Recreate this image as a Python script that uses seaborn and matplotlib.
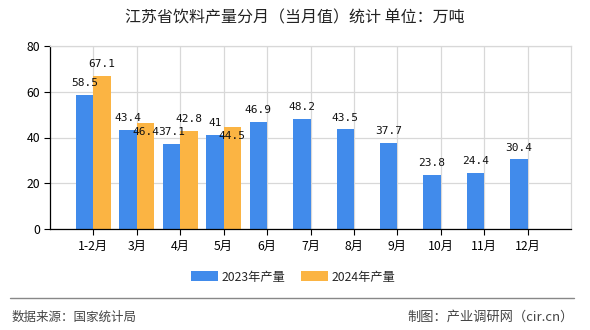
import matplotlib
matplotlib.use("Agg")
import matplotlib.pyplot as plt
import seaborn as sns
import pandas as pd
from matplotlib.patches import Patch

months = ["1-2月", "3月", "4月", "5月", "6月", "7月", "8月", "9月", "10月", "11月", "12月"]
values_2023 = [58.5, 43.4, 37.1, 41, 46.9, 48.2, 43.5, 37.7, 23.8, 24.4, 30.4]
months_2024 = ["1-2月", "3月", "4月", "5月"]
values_2024 = [67.1, 46.4, 42.8, 44.5]
series = ["2023年产量", "2024年产量"]
colors = ["#418BEB", "#FBB443"]
title = "江苏省饮料产量分月（当月值）统计 单位：万吨"
source_left = "数据来源：国家统计局"
source_right = "制图：产业调研网（cir.cn）"
# labels the reference pushes down into the bar (overlap avoidance)
shifted_2024 = ["3月", "5月"]

df = pd.concat([
    pd.DataFrame({"月份": months, "系列": series[0], "值": values_2023}),
    pd.DataFrame({"月份": months_2024, "系列": series[1], "值": values_2024}),
], ignore_index=True)

sns.set_theme(style="white")
plt.rcParams["font.family"] = ["Noto Sans CJK SC", "DejaVu Sans"]

fig = plt.figure(figsize=(5.9, 3.3), dpi=100)
ax = fig.add_axes([50 / 590, 1 - 229 / 330, (571 - 50) / 590, (229 - 46) / 330])

sns.barplot(data=df, x="月份", y="值", hue="系列", order=months, hue_order=series,
            palette=colors, width=0.8, saturation=1, ax=ax, legend=False,
            linewidth=0, errorbar=None)

lab_kw = dict(fontsize=8, family=["DejaVu Sans Mono"], color="#111111")
cont_2023, cont_2024 = ax.containers[0], ax.containers[1]
ax.bar_label(cont_2023, labels=[f"{b.get_height():g}" for b in cont_2023], padding=5, **lab_kw)
normal = [("" if m in shifted_2024 else f"{v:g}") for m, v in zip(months_2024, values_2024)]
moved = [(f"{v:g}" if m in shifted_2024 else "") for m, v in zip(months_2024, values_2024)]
ax.bar_label(cont_2024, labels=normal, padding=5, **lab_kw)
ax.bar_label(cont_2024, labels=moved, padding=-10, **lab_kw)

ax.set_xlim(-1, 11)
ax.set_ylim(0, 80)
ax.set_yticks([0, 20, 40, 60, 80])
ax.set_xlabel("")
ax.set_ylabel("")
ax.grid(True, color="#d8d8d8", linewidth=0.9)
ax.set_axisbelow(True)
for s in ["top", "right"]:
    ax.spines[s].set_color("#d8d8d8")
    ax.spines[s].set_linewidth(0.9)
for s in ["left", "bottom"]:
    ax.spines[s].set_color("#000000")
    ax.spines[s].set_linewidth(0.9)
ax.tick_params(axis="both", which="both", direction="out", length=4, width=0.8,
               colors="#000000", labelsize=8.8, left=True, bottom=True, pad=3)
ax.tick_params(axis="x", pad=4)

fig.text(0.5, 1 - 18 / 330, title, ha="center", va="center", fontsize=11.5, color="#222222")

handles = [Patch(facecolor=c, edgecolor="none") for c in colors]
fig.legend(handles, series, loc="center", bbox_to_anchor=(0.497, 1 - 277 / 330),
           ncol=2, frameon=False, fontsize=8.8, handlelength=2.2, handleheight=0.9,
           columnspacing=1.3, handletextpad=0.3)

fig.add_artist(plt.Line2D([10 / 590, 574 / 590], [1 - 298 / 330] * 2,
                          transform=fig.transFigure, color="#888888", linewidth=1))
fig.text(12 / 590, 1 - 317 / 330, source_left, ha="left", va="center", fontsize=9, color="#444444")
fig.text(574 / 590, 1 - 317 / 330, source_right, ha="right", va="center", fontsize=9.5, color="#444444")

fig.savefig("out.png", dpi=100, facecolor="white")
